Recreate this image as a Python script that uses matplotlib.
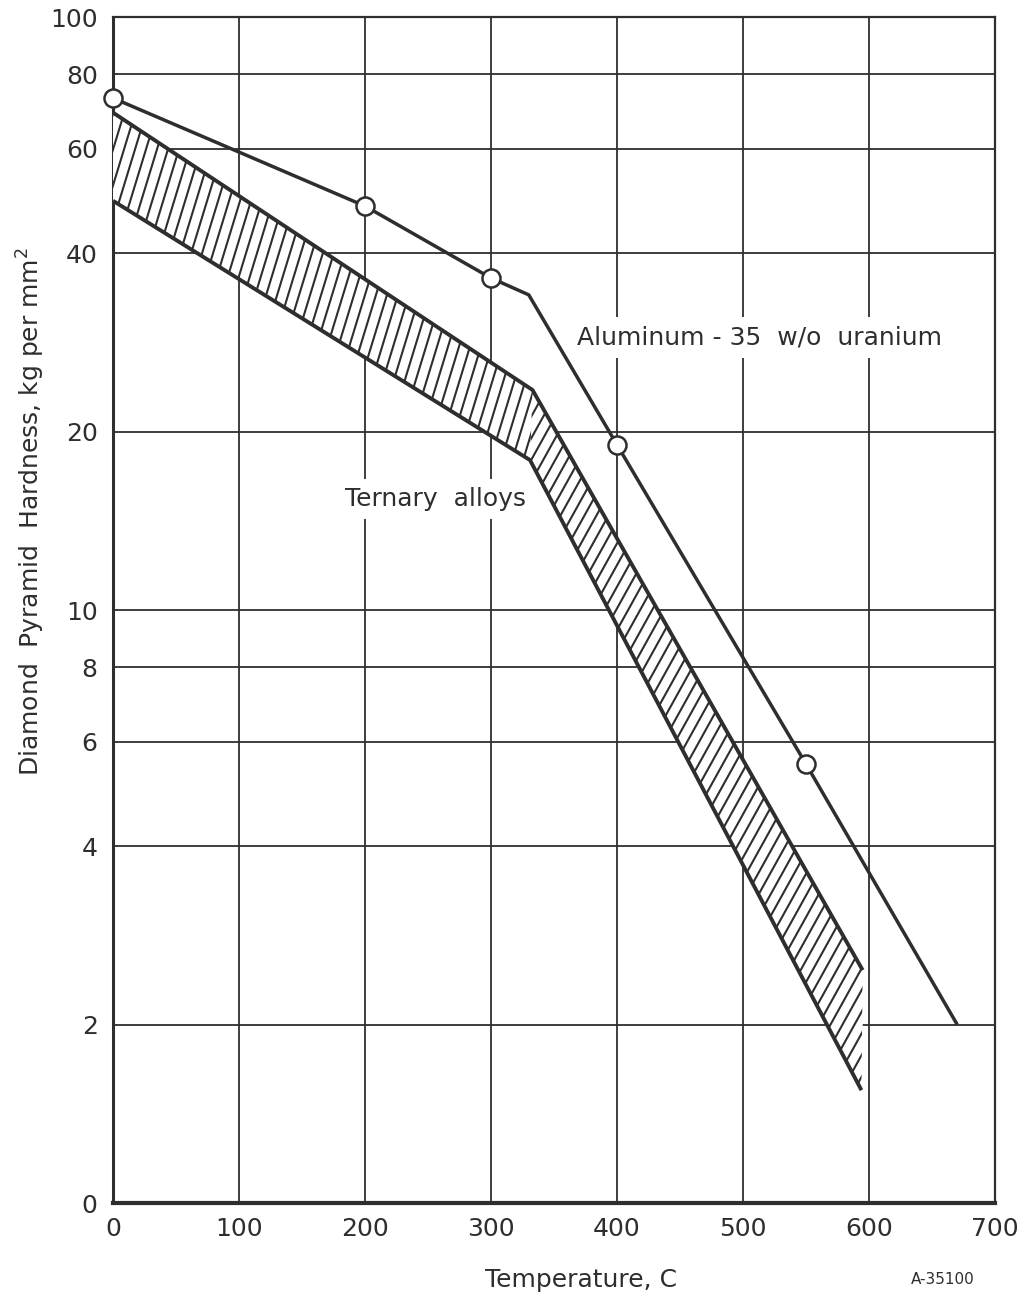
import numpy as np
import matplotlib
matplotlib.use("Agg")
import matplotlib.pyplot as plt
from matplotlib.collections import LineCollection
from matplotlib.patches import Polygon

# aluminum - 35 w/o uranium curve (vertices) and measured points
al_temp = [0, 200, 300, 330, 400, 550, 670]
al_hard = [73, 48, 36.3, 34, 19, 5.5, 2.0]
pt_temp = [0, 200, 300, 400, 550]
pt_hard = [73, 48, 36.3, 19, 5.5]

# ternary alloys band
upper_temp = [0, 333, 595]
upper_hard = [69, 23.5, 2.47]
lower_temp = [0, 331, 594]
lower_hard = [49, 17.9, 1.55]

x_ticks = [0, 100, 200, 300, 400, 500, 600, 700]
y_ticks = [1, 2, 4, 6, 8, 10, 20, 40, 60, 80, 100]
y_labels = ["0", "2", "4", "6", "8", "10", "20", "40", "60", "80", "100"]

ink = "#2e2e2e"
plt.rcParams["font.family"] = ["DejaVu Sans"]

fig = plt.figure(figsize=(10.25, 13), dpi=100)
ax = fig.add_axes([0.1102, 0.0746, 0.8605, 0.9123])
ax.set_yscale("log")
ax.set_xlim(0, 700)
ax.set_ylim(1, 100)

ax.set_xticks(x_ticks)
ax.set_xticklabels([str(t) for t in x_ticks])
ax.set_yticks(y_ticks)
ax.set_yticklabels(y_labels)
ax.yaxis.set_minor_locator(matplotlib.ticker.NullLocator())
ax.tick_params(axis="both", length=0, labelsize=18, colors=ink)
ax.tick_params(axis="x", pad=10)
ax.tick_params(axis="y", pad=11)

ax.grid(True, color=ink, linewidth=1.3)
ax.set_axisbelow(True)
for side, lw in [("left", 2.2), ("bottom", 3.0), ("top", 1.6), ("right", 1.6)]:
    ax.spines[side].set_linewidth(lw)
    ax.spines[side].set_color(ink)

# axes size in pixels, used to get the hatch slant right on screen
W_PX, H_PX = 0.8605 * 1025, 0.9123 * 1300


def hatch_band(t_up, h_up, t_lo, h_lo, angle, gap):
    verts = np.column_stack([list(t_up) + list(t_lo)[::-1], list(h_up) + list(h_lo)[::-1]])
    poly = Polygon(verts, closed=True, facecolor="white", edgecolor="white",
                   linewidth=0.8, zorder=3)
    ax.add_patch(poly)
    a = np.radians(angle)
    run = (H_PX / W_PX) / np.tan(a)
    step = gap / np.sin(a) / W_PX
    segs = [[(x0, 0), (x0 + run, 1)] for x0 in np.arange(-1.0, 1.0, step)]
    lc = LineCollection(segs, colors=ink, linewidths=1.5, transform=ax.transAxes, zorder=4)
    lc.set_clip_path(poly)
    ax.add_collection(lc, autolim=False)


# gentle part of the band has steeper hatching than the steep part
hatch_band(upper_temp[:2], upper_hard[:2], lower_temp[:2], lower_hard[:2], 73, 10.5)
hatch_band(upper_temp[1:], upper_hard[1:], lower_temp[1:], lower_hard[1:], 61, 10.5)

ax.plot(upper_temp, upper_hard, color=ink, linewidth=2.8, zorder=5, solid_capstyle="butt")
ax.plot(lower_temp, lower_hard, color=ink, linewidth=2.8, zorder=5, solid_capstyle="butt")

ax.plot(al_temp, al_hard, color=ink, linewidth=2.5, zorder=5, solid_capstyle="butt")
ax.plot(pt_temp, pt_hard, linestyle="none", marker="o", markersize=13,
        markerfacecolor="white", markeredgecolor=ink, markeredgewidth=1.8,
        zorder=6, clip_on=False)

box = dict(facecolor="white", edgecolor="none", pad=6)
ax.text(368, 28.8, "Aluminum - 35  w/o  uranium", fontsize=18, color=ink,
        ha="left", va="center", bbox=box, zorder=7)
ax.text(184, 15.4, "Ternary  alloys", fontsize=18, color=ink,
        ha="left", va="center", bbox=box, zorder=7)

fig.text(0.030, 1 - 512 / 1300, "Diamond  Pyramid  Hardness, kg per mm$^2$",
         rotation=90, fontsize=18, color=ink, ha="center", va="center")
fig.text(581 / 1025, 1 - 1280 / 1300, "Temperature, C", fontsize=18, color=ink,
         ha="center", va="center")
fig.text(943 / 1025, 1 - 1280 / 1300, "A-35100", fontsize=11, color=ink,
         ha="center", va="center")

fig.savefig("out.png", dpi=100)
